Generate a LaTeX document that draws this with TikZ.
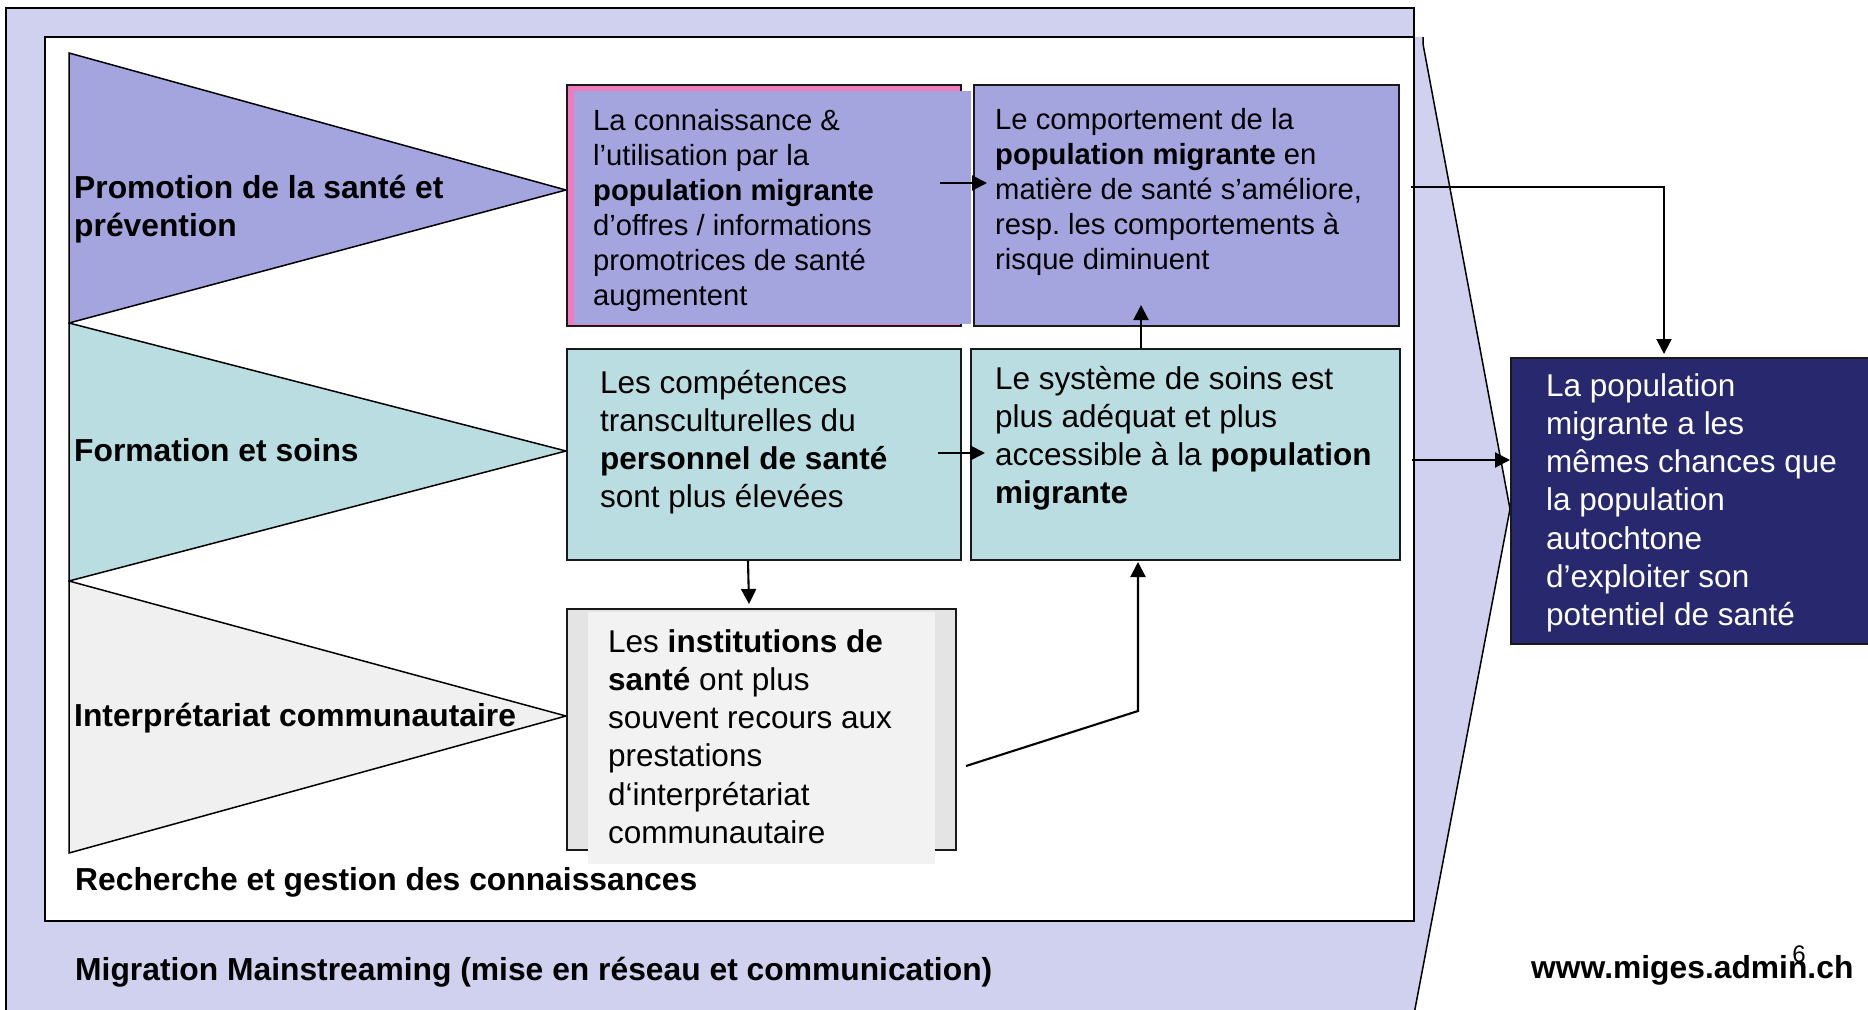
\documentclass[tikz,border=0pt]{standalone}
\usepackage{fontspec}
\setmainfont{Liberation Sans}
\usetikzlibrary{arrows.meta,calc}

\definecolor{lav}{HTML}{D0D0EF}
\definecolor{purp}{HTML}{A4A4DF}
\definecolor{pinkc}{HTML}{EE7BBB}
\definecolor{tealc}{HTML}{B9DDE0}
\definecolor{greyA}{HTML}{E4E4E4}
\definecolor{greyB}{HTML}{F2F2F2}
\definecolor{greyT}{HTML}{F0F0F0}
\definecolor{navyc}{HTML}{28286F}

\newcommand{\mlines}[1]{\vtop{\lineskiplimit=-100pt\relax #1}}

\begin{document}
\begin{tikzpicture}[x=1pt,y=-1pt,
  frame/.style={draw=black,line width=1.8pt},
  box/.style={draw=black!90,line width=2pt,inner sep=0pt,anchor=north west},
  tri/.style={draw=black,line width=1.5pt},
  arr/.style={line width=2.1pt,-{Triangle[length=15pt,width=15pt]}},
  tA/.style={anchor=base west,inner sep=0pt,font=\fontsize{29.2}{35}\selectfont},
  tB/.style={anchor=base west,inner sep=0pt,font=\fontsize{31.5}{38.3}\selectfont},
  lab/.style={anchor=base west,inner sep=0pt,font=\fontsize{31.8}{38}\selectfont\bfseries}]

\useasboundingbox (0,0) rectangle (1868,1009);

% outer frame
\fill[lav] (6,8) rectangle (1414,1030);
\draw[frame] (6,1030) -- (6,8) -- (1414,8) -- (1414,1030);
% big arrow on the right
\fill[lav] (1414,37) -- (1423,37) -- (1423,44) -- (1510,509) -- (1411,1030) -- cycle;
\draw[tri] (1423,37) -- (1423,44) -- (1510,509) -- (1411,1030);
% inner white field
\draw[frame,fill=white] (45,37) rectangle (1414,921);

% triangles
\draw[tri,fill=purp] (69,53) -- (566,190) -- (69,323) -- cycle;
\draw[tri,fill=tealc] (69,323) -- (566,451) -- (69,581) -- cycle;
\draw[tri,fill=greyT] (69,581) -- (566,716) -- (69,853) -- cycle;

% boxes
\node[box,fill=pinkc,minimum width=394pt,minimum height=241pt] (b1) at (566,84) {};
\fill[purp] (574,91) rectangle (971,323.5);
\node[box,fill=purp,minimum width=425pt,minimum height=241pt] (b2) at (973,84) {};
\node[box,fill=tealc,minimum width=394pt,minimum height=211pt] (b3) at (566,348) {};
\node[box,fill=tealc,minimum width=429pt,minimum height=211pt] (b4) at (970,348) {};
\node[box,fill=greyA,minimum width=389pt,minimum height=241pt] (b5) at (566,608) {};
\fill[greyB] (588,612) rectangle (935,864);
\node[box,fill=navyc,minimum width=390pt,minimum height=286pt] (b6) at (1510,357) {};

% box texts
\node[tA] (t1) at (593,130) {\mlines{\hbox{La connaissance \&}\hbox{l’utilisation par la}\hbox{\bfseries population migrante}\hbox{d’offres / informations}\hbox{promotrices de santé}\hbox{augmentent}}};
\node[tA] (t2) at (995,129) {\mlines{\hbox{Le comportement de la}\hbox{\textbf{population migrante} en}\hbox{matière de santé s’améliore,}\hbox{resp.\ les comportements à}\hbox{risque diminuent}}};
\node[tB] (t3) at (600,393) {\mlines{\hbox{Les compétences}\hbox{transculturelles du}\hbox{\bfseries personnel de santé}\hbox{sont plus élevées}}};
\node[tB] (t4) at (995,389) {\mlines{\hbox{Le système de soins est}\hbox{plus adéquat et plus}\hbox{accessible à la \textbf{population}}\hbox{\bfseries migrante}}};
\node[tB] (t5) at (608,652) {\mlines{\hbox{Les \textbf{institutions de}}\hbox{\textbf{santé} ont plus}\hbox{souvent recours aux}\hbox{prestations}\hbox{d‘interprétariat}\hbox{communautaire}}};
\node[tB,text=white] (t6) at (1546,396) {\mlines{\hbox{La population}\hbox{migrante a les}\hbox{mêmes chances que}\hbox{la population}\hbox{autochtone}\hbox{d’exploiter son}\hbox{potentiel de santé}}};

% labels
\node[lab] (l1) at (74,198) {\mlines{\hbox{Promotion de la santé et}\hbox{prévention}}};
\node[lab] (l2) at (74,461) {Formation et soins};
\node[lab] (l3) at (74,726) {Interprétariat communautaire};
\node[lab] (l4) at (75,890) {Recherche et gestion des connaissances};
\node[lab] (l5) at (75,980) {Migration Mainstreaming (mise en réseau et communication)};
\node[lab] (l6) at (1531,978) {www.miges.admin.ch};
\node[anchor=base,inner sep=0pt,font=\fontsize{24}{28}\selectfont] (pg) at (1799,962) {6};

% connectors
\coordinate (k5) at (1138,711);
\draw[arr] ($(b1.east|-0,183)+(-22,0)$) -- ($(b2.west|-0,183)+(14,0)$);
\draw[arr] ($(b3.east|-0,453)+(-24,0)$) -- ($(b4.west|-0,453)+(15,0)$);
\draw[arr] (b4.north -| 1141,0) -- ($(b2.south -| 1141,0)+(0,-22)$);
\draw[arr] (b3.south -| 748,0) -- ($(b5.north -| 749,0)+(0,-4)$);
\draw[arr] ($(b5.east|-0,766)+(9,0)$) -- (k5) -- ($(b4.south -| k5)+(0,1)$);
\draw[arr] ($(b2.east|-0,187)+(11,0)$) -| ($(b6.north -| 1664,0)+(0,-3)$);
\draw[arr] ($(b4.east|-0,460)+(11,0)$) -- (b6.west|-0,460);
\end{tikzpicture}
\end{document}
